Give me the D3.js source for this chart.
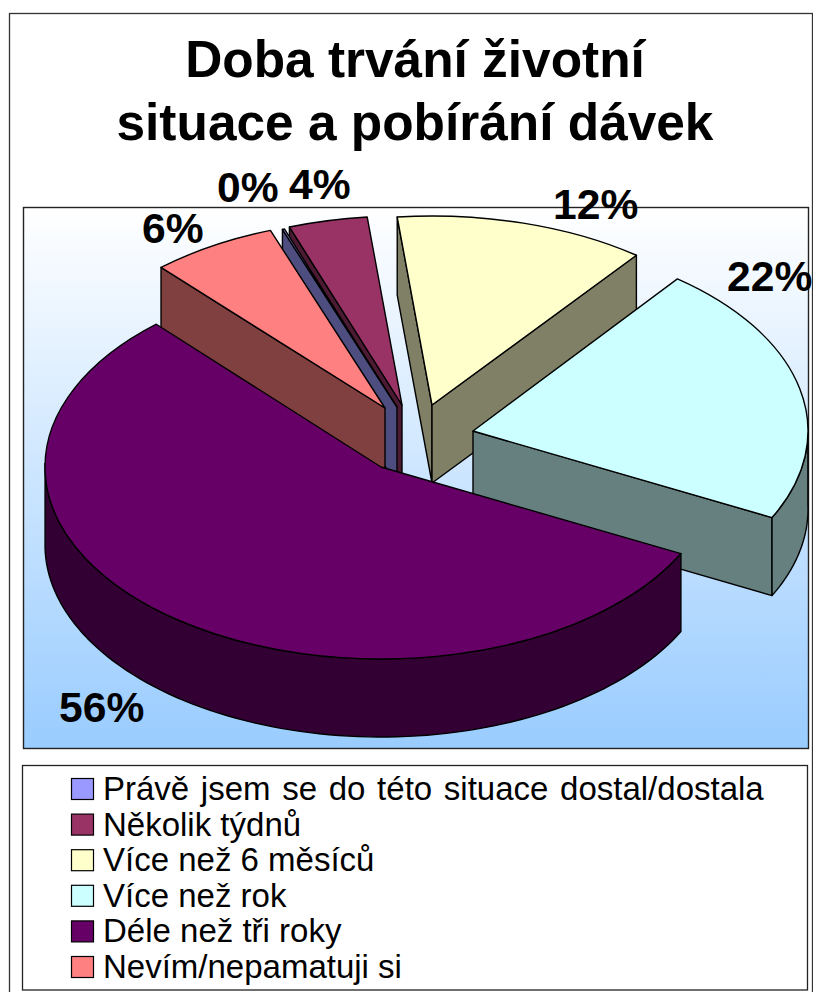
<!DOCTYPE html>
<html><head><meta charset="utf-8">
<style>html,body{margin:0;padding:0;background:#fff}svg{display:block}text{font-family:"Liberation Sans",Arial,sans-serif;fill:#000}</style>
<script src="https://cdnjs.cloudflare.com/ajax/libs/d3/7.8.5/d3.min.js"></script>
</head><body><svg id="c" width="813" height="992"></svg>
<script>
const titleLines = ["Doba trvání životní", "situace a pobírání dávek"];
const categories = ["Právě jsem se do této situace dostal/dostala","Několik týdnů","Více než 6 měsíců","Více než rok","Déle než tři roky","Nevím/nepamatuji si"];
const values = [0.1, 3.8, 12.1, 22, 55.9, 6.1];
const valueLabels = ["0%","4%","12%","22%","56%","6%"];
const colors = ["#9999ff","#993366","#ffffcc","#ccffff","#660066","#ff8080"];
const wallColors = ["#4d4d80","#4d1a33","#808066","#668080","#330033","#804040"];

// layout
const W = 813, H = 992, depth = 78;
const apexes = [[397,407],[402,405],[432,405],[473,431],[381,467],[385,408]];
const rims = [[335,189],[335,189],[335,189],[335,192],[336,192],[335,189]];
const labelPos = [[217,202],[289,199],[553,219],[727,291],[59,722],[142,243]];
const paintOrder = [2,1,0,5,3,4];
const startDeg = -20;

const svg = d3.select("#c");
const defs = svg.append("defs");
const grad = defs.append("linearGradient").attr("id","bg").attr("x1",0).attr("y1",0).attr("x2",0).attr("y2",1);
grad.append("stop").attr("offset","0%").attr("stop-color","#ffffff");
grad.append("stop").attr("offset","100%").attr("stop-color","#99ccff");

svg.append("rect").attr("x",9.5).attr("y",13.5).attr("width",803).attr("height",990)
  .attr("fill","#fff").attr("stroke","#333").attr("stroke-width",1.3);
svg.append("rect").attr("x",23.5).attr("y",207.5).attr("width",785).attr("height",541)
  .attr("fill","url(#bg)").attr("stroke","#222").attr("stroke-width",1.4);

svg.selectAll("text.title").data(titleLines).join("text").attr("class","title")
  .attr("x",415).attr("y",(d,i)=>77+i*63).attr("text-anchor","middle")
  .attr("font-size",51.4).attr("font-weight","bold").text(d=>d);

const start = startDeg*Math.PI/180;
const pie = d3.pie().sort(null).startAngle(start).endAngle(start+2*Math.PI);
const arcs = pie(values);
const line = d3.line();
const onRim = (a, c, r, dz=0) => [c[0]+r[0]*Math.sin(a), c[1]-r[1]*Math.cos(a)+dz];

const gPie = svg.append("g").attr("stroke","#000").attr("stroke-width",1.4).attr("stroke-linejoin","round");
paintOrder.forEach(i=>{
  const d = arcs[i], c = apexes[i], r = rims[i];
  const angs = d3.range(0, 121).map(k=>d.startAngle+(d.endAngle-d.startAngle)*k/120);
  // radial walls: only the ones that face the viewer
  [[d.startAngle,-1],[d.endAngle,1]].forEach(([a,side])=>{
    if (Math.sin(a)*side <= 0) return;
    const p = onRim(a,c,r), q = onRim(a,c,r,depth);
    gPie.append("path").attr("d",line([c,p,q,[c[0],c[1]+depth]])+"Z").attr("fill",wallColors[i]);
  });
  // outer band: only the near half of the rim
  const near = angs.filter(a=>Math.cos(a) < 0.03);
  if (near.length > 1) {
    const band = near.map(a=>onRim(a,c,r)).concat(near.slice().reverse().map(a=>onRim(a,c,r,depth)));
    gPie.append("path").attr("d",line(band)+"Z").attr("fill",wallColors[i]);
  }
  // top surface
  gPie.append("path").attr("d",d3.arc().innerRadius(0).outerRadius(r[0])(d))
    .attr("transform",`translate(${c[0]},${c[1]}) scale(1,${r[1]/r[0]})`)
    .attr("vector-effect","non-scaling-stroke").attr("fill",colors[i]);
});

svg.selectAll("text.val").data(valueLabels).join("text").attr("class","val")
  .attr("x",(d,i)=>labelPos[i][0]).attr("y",(d,i)=>labelPos[i][1])
  .attr("font-size",42.6).attr("font-weight","bold").text(d=>d);

// legend
svg.append("rect").attr("x",22.5).attr("y",765.5).attr("width",785).attr("height",224.5)
  .attr("fill","#fff").attr("stroke","#222").attr("stroke-width",1.3);
const ly = d3.scalePoint().domain(categories).range([800,978]);
const lg = svg.selectAll("g.leg").data(categories).join("g").attr("class","leg");
lg.append("rect").attr("x",71.5).attr("y",d=>ly(d)-21.5).attr("width",22).attr("height",21)
  .attr("fill",(d,i)=>colors[i]).attr("stroke","#000").attr("stroke-width",1.2);
lg.append("text").attr("x",103).attr("y",d=>ly(d)).attr("font-size",33)
  .attr("word-spacing",(d,i)=>i===0?"2.5px":null).text(d=>d);
</script></body></html>
